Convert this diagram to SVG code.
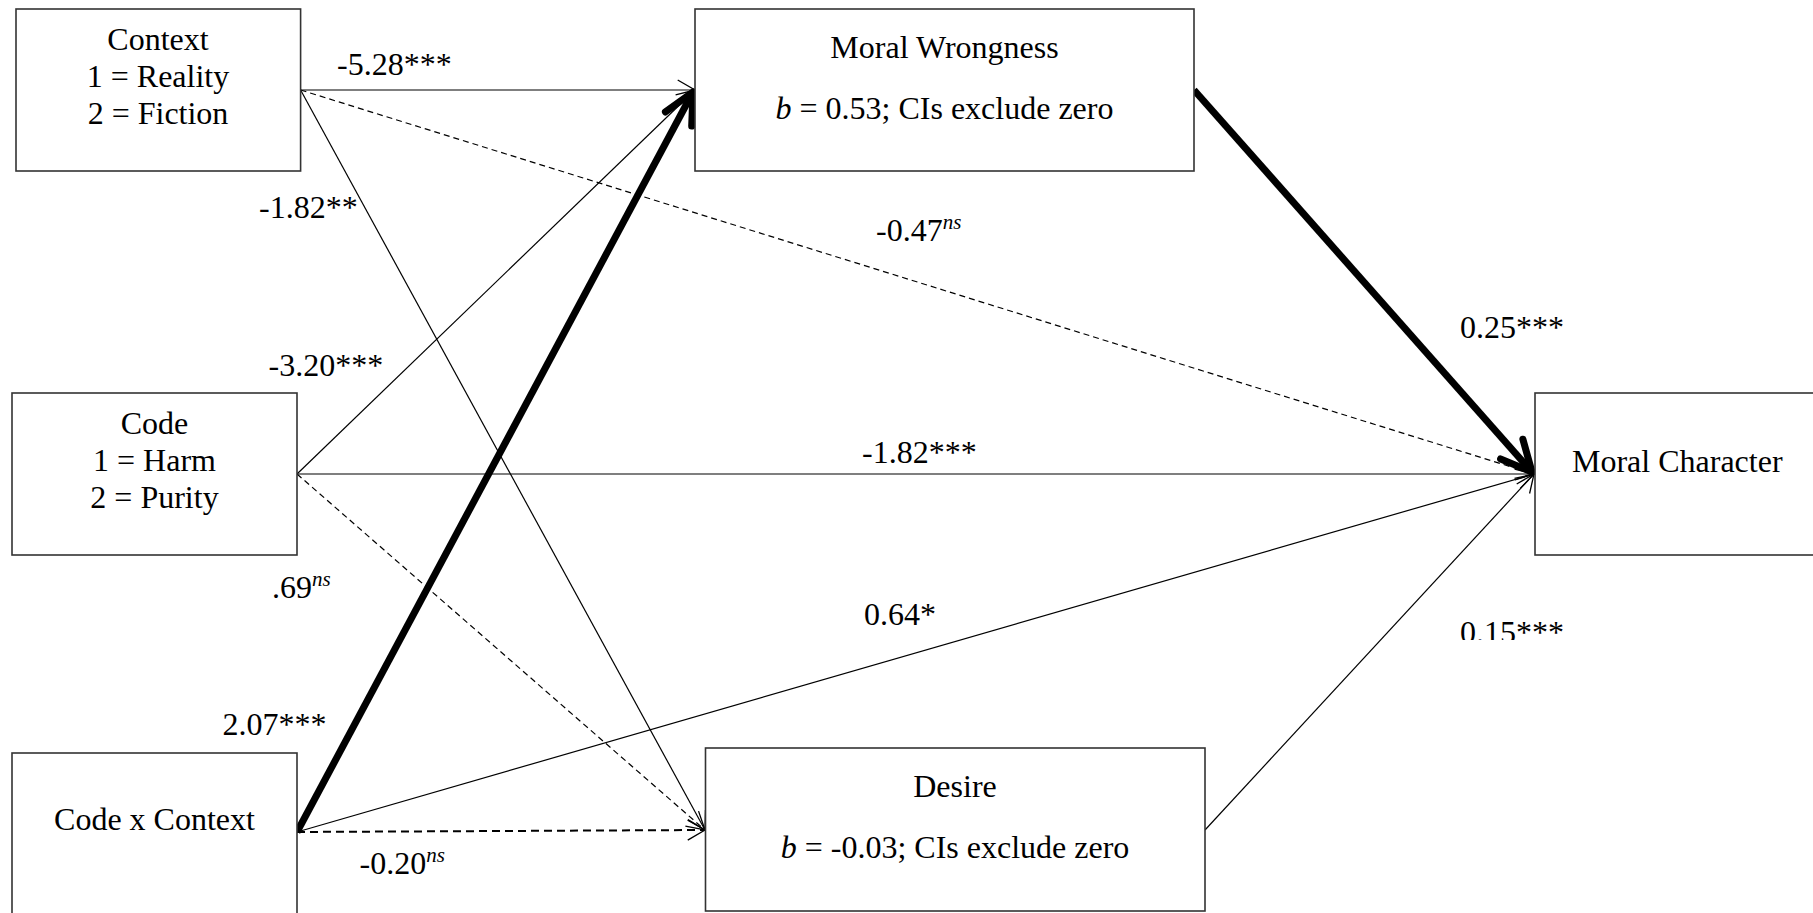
<svg xmlns="http://www.w3.org/2000/svg" width="1813" height="913" viewBox="0 0 1813 913">
<style>
text{font-family:"Liberation Serif","Times New Roman",serif;font-size:32px;fill:#000}
.box{fill:#fff;stroke:#333;stroke-width:1.6}
.ln{fill:none;stroke:#000;stroke-width:1.2}
.ds{stroke-dasharray:6 4}
.dsb{stroke-width:2;stroke-dasharray:8 5}
.tk{fill:none;stroke:#000;stroke-width:7}
.mid{text-anchor:middle}
.sup{font-size:21px;font-style:italic}
</style>
<defs>
<marker id="ah" markerUnits="userSpaceOnUse" markerWidth="24" markerHeight="24" refX="20" refY="12" orient="auto" overflow="visible">
<path d="M2.7,2 L20,12 L2.7,22" fill="none" stroke="#000" stroke-width="1.3"/>
</marker>
<marker id="ahk" markerUnits="userSpaceOnUse" markerWidth="34" markerHeight="34" refX="30.6" refY="17" orient="auto" overflow="visible">
<path d="M0,2.1 L30.6,17 L0,31.9" fill="none" stroke="#000" stroke-width="7" stroke-linecap="round" stroke-linejoin="round"/>
</marker>
<clipPath id="clip15"><rect x="1440" y="600" width="160" height="40"/></clipPath>
</defs>
<rect width="1813" height="913" fill="#fff"/>

<g id="connectors">
<line class="ln" x1="300.6" y1="90" x2="695" y2="90" marker-end="url(#ah)"/>
<line class="ln ds" x1="300.6" y1="90" x2="1534" y2="474" marker-end="url(#ah)"/>
<line class="ln" x1="300.6" y1="90" x2="705" y2="830" marker-end="url(#ah)"/>
<line class="ln" x1="297" y1="474" x2="695" y2="90" marker-end="url(#ah)"/>
<line class="ln" x1="297" y1="474" x2="1534" y2="474" marker-end="url(#ah)"/>
<line class="ln ds" x1="297" y1="474" x2="705" y2="830" marker-end="url(#ah)"/>
<line class="tk" x1="297" y1="832" x2="693" y2="92" marker-end="url(#ahk)"/>
<line class="ln" x1="297" y1="832" x2="1534" y2="474" marker-end="url(#ah)"/>
<line class="ln dsb" x1="297" y1="832" x2="705" y2="830" marker-end="url(#ah)"/>
<line class="tk" x1="1194" y1="90" x2="1532" y2="472" marker-end="url(#ahk)"/>
<line class="ln" x1="1205" y1="830" x2="1534" y2="474" marker-end="url(#ah)"/>
</g>

<g id="node-context">
<rect class="box" x="16" y="9" width="284.6" height="162"/>
<text class="mid" x="158" y="50">Context</text>
<text class="mid" x="158" y="87">1 = Reality</text>
<text class="mid" x="158" y="124">2 = Fiction</text>
</g>

<g id="node-code">
<rect class="box" x="12" y="393" width="285" height="162"/>
<text class="mid" x="154.5" y="434">Code</text>
<text class="mid" x="154.5" y="471">1 = Harm</text>
<text class="mid" x="154.5" y="508">2 = Purity</text>
</g>

<g id="node-codexcontext">
<rect class="box" x="12" y="753" width="285" height="165"/>
<text class="mid" x="154.5" y="830">Code x Context</text>
</g>

<g id="node-moralwrongness">
<rect class="box" x="695" y="9" width="499" height="162"/>
<text class="mid" x="944.5" y="58">Moral Wrongness</text>
<text class="mid" x="944.5" y="119"><tspan font-style="italic">b</tspan> = 0.53; CIs exclude zero</text>
</g>

<g id="node-desire">
<rect class="box" x="705.5" y="748" width="499.5" height="163"/>
<text class="mid" x="955" y="797">Desire</text>
<text class="mid" x="955" y="858"><tspan font-style="italic">b</tspan> = -0.03; CIs exclude zero</text>
</g>

<g id="node-moralcharacter">
<rect class="box" x="1535" y="393" width="282" height="162"/>
<text x="1572" y="472">Moral Character</text>
</g>

<g id="labels">
<text x="337" y="75">-5.28***</text>
<text x="259" y="218">-1.82**</text>
<text x="268.5" y="376">-3.20***</text>
<text x="272" y="598">.69<tspan class="sup" dy="-12">ns</tspan></text>
<text x="222.5" y="735">2.07***</text>
<text x="359.5" y="874">-0.20<tspan class="sup" dy="-12">ns</tspan></text>
<text x="876" y="241">-0.47<tspan class="sup" dy="-12">ns</tspan></text>
<text x="862" y="463">-1.82***</text>
<text x="864" y="625">0.64*</text>
<text x="1460" y="338">0.25***</text>
<text x="1460" y="643" clip-path="url(#clip15)">0.15***</text>
</g>
</svg>
